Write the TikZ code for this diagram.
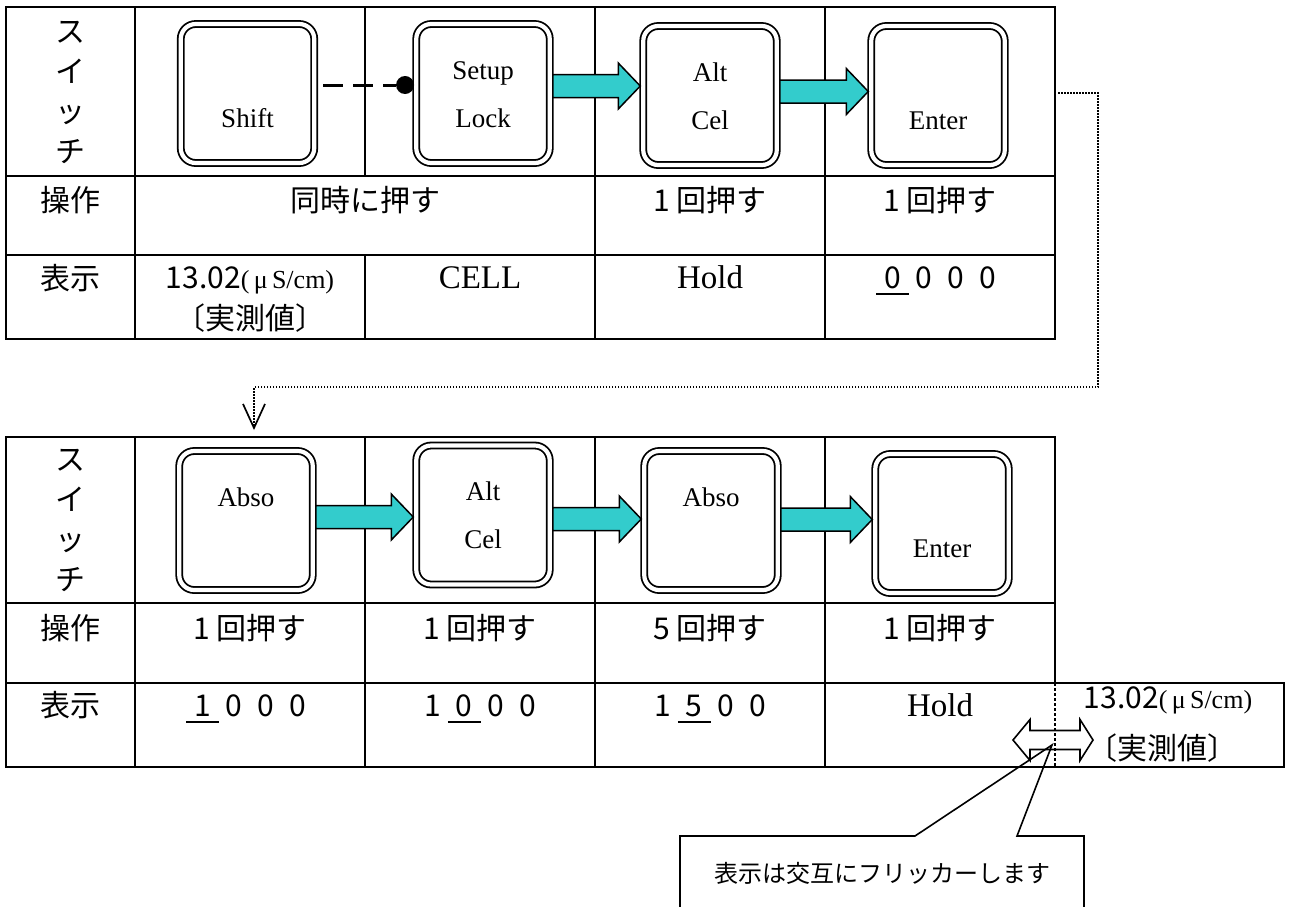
\documentclass[tikz,border=0pt]{standalone}
\usepackage{fontspec}
\setmainfont{Liberation Serif}
\newfontfamily\jp{Noto Sans CJK JP}
\usepackage{tikz}
\usetikzlibrary{arrows.meta,calc}
\definecolor{keycyan}{HTML}{33CCCC}
\newcommand{\dgap}{\hspace{0.5em}}
\newcommand{\cur}[1]{\makebox[0pt][l]{\hspace{-0.27em}\rule[-0.22em]{1.1em}{0.07em}}#1}
\newcommand{\siunit}{{\rmfamily\fontsize{26}{30}\selectfont(\,μ\,S/cm)}}
\newcommand{\flowto}[3]{%
  \draw[flow] ($(#1.east|-0,#3)+(0,-11.5)$) -- ($(#2.west|-0,#3)+(-22,-11.5)$)
    -- ($(#2.west|-0,#3)+(-22,-23)$) -- (#2.west|-0,#3)
    -- ($(#2.west|-0,#3)+(-22,23)$) -- ($(#2.west|-0,#3)+(-22,11.5)$)
    -- ($(#1.east|-0,#3)+(0,11.5)$) -- cycle;}

\begin{document}
\begin{tikzpicture}[
  x=1pt, y=-1pt,
  grid/.style={line width=2.6pt, line cap=rect},
  key/.style={draw, double, line width=1.8pt, double distance=4.2pt,
              rounded corners=15pt, minimum width=133.5pt, minimum height=139pt,
              inner sep=0pt, outer sep=3pt, align=center,
              font=\fontsize{27}{48}\selectfont},
  flow/.style={fill=keycyan, draw=black, line width=1.5pt, line join=miter},
  row/.style={anchor=base, inner sep=0pt, font=\jp\fontsize{30}{36}\selectfont},
  lat/.style={anchor=base, inner sep=0pt, font=\fontsize{33}{40}\selectfont},
  vert/.style={align=center, inner sep=0pt, font=\jp\fontsize{30}{40}\selectfont},
  link/.style={line width=1.5pt, dash pattern=on 1.5pt off 1.5pt,
               -{Straight Barb[length=24pt, width=22pt, line width=1.7pt]}},
  pin/.style={circle, fill, inner sep=0pt, minimum size=18pt},
  note/.style={line width=1.6pt}]
\useasboundingbox (0,0) rectangle (1289,906);
\clip (0,0) rectangle (1289,906);

\draw[grid] (6,7) rectangle (1055,339);
\draw[grid] (6,176) -- (1055,176);
\draw[grid] (6,255) -- (1055,255);
\draw[grid] (135,7) -- (135,339);
\draw[grid] (365,7) -- (365,176);
\draw[grid] (365,255) -- (365,339);
\draw[grid] (595,7) -- (595,339);
\draw[grid] (825,7) -- (825,339);

\node[vert] (sw1) at (70.5,92) {ス\\イ\\ッ\\チ};
\node[key] (shift) at (247.5,93.5) {\strut\\Shift\strut};
\node[key] (setup) at (483,93.5) {Setup\strut\\Lock\strut};
\node[key] (alt) at (710,95.5) {Alt\strut\\Cel\strut};
\node[key] (enter) at (938,95.5) {\strut\\Enter\strut};
\node[pin, anchor=east] (dot) at ($(setup.west|-0,85)+(1,0)$) {};
\draw[line width=3pt, dash pattern=on 20pt off 10pt] ($(shift.east|-0,85)+(6,0)$) -- (dot);
\flowto{setup}{alt}{86}
\flowto{alt}{enter}{91.5}

\node[row] (op1) at (70.5,211) {操作};
\node[row] (both) at (365,211) {同時に押す};
\node[row] (once1) at (710,211) {1 回押す};
\node[row] (once2) at (940,211) {1 回押す};
\node[row] (ds1) at (70.5,289) {表示};
\node[row] (meas1) at (250,288) {13.02\siunit};
\node[row] (real1) at (250,329) {〔実測値〕};
\node[lat] (cell) at (480,288) {CELL};
\node[lat] (hold1) at (710,288) {Hold};
\node[row] (code1) at (940,288) {\cur{0}\dgap0\dgap0\dgap0};

\coordinate (out) at (1058,93);
\coordinate (in) at (254,430);
\draw[link] (out) -- (1098,93) -- (1098,387) -| (in);

\draw[grid] (1055,683) -- (1055,437) -- (6,437) -- (6,767) -- (1284,767) -- (1284,683) -- cycle;
\draw[grid] (6,603) -- (1055,603);
\draw[grid] (6,683) -- (1055,683);
\draw[grid] (135,437) -- (135,767);
\draw[grid] (365,437) -- (365,767);
\draw[grid] (595,437) -- (595,767);
\draw[grid] (825,437) -- (825,767);
\draw[line width=2.2pt, dash pattern=on 3pt off 2pt] (1055,683) -- (1055,767);

\node[vert] (sw2) at (70.5,520) {ス\\イ\\ッ\\チ};
\node[key] (abso) at (246,520.5) {Abso\strut\\\strut};
\node[key] (alt2) at (483,515) {Alt\strut\\Cel\strut};
\node[key] (abso2) at (711,520.5) {Abso\strut\\\strut};
\node[key] (enter2) at (942,523.5) {\strut\\Enter\strut};
\flowto{abso}{alt2}{517}
\flowto{alt2}{abso2}{519}
\flowto{abso2}{enter2}{519.5}

\node[row] (op2) at (70.5,639) {操作};
\node[row] (press1) at (250,639) {1 回押す};
\node[row] (press2) at (480,639) {1 回押す};
\node[row] (press3) at (710,639) {5 回押す};
\node[row] (press4) at (940,639) {1 回押す};
\node[row] (ds2) at (70.5,716) {表示};
\node[row] (code2) at (250,716) {\cur{1}\dgap0\dgap0\dgap0};
\node[row] (code3) at (480,716) {1\dgap\cur{0}\dgap0\dgap0};
\node[row] (code4) at (710,716) {1\dgap\cur{5}\dgap0\dgap0};
\node[lat] (hold2) at (940,716) {Hold};
\node[row] (meas2) at (1168,708) {13.02\siunit};
\node[row] (real2) at (1162,759) {〔実測値〕};

\coordinate (flick) at (1053,740);
\draw[note, shift={(flick)}] (-40,0) -- (-23,-20.5) -- (-23,-9.5) -- (27,-9.5) -- (27,-20.5)
  -- (40,0) -- (27,20.5) -- (27,9.5) -- (-23,9.5) -- (-23,20.5) -- cycle;
\coordinate (tip) at (1052,745);
\draw[note] (680,930) -- (680,836) -- (915,836) -- (tip) -- (1017,836) -- (1084,836) -- (1084,930);
\node[font=\jp\fontsize{24}{28}\selectfont] (memo) at (882,873) {表示は交互にフリッカーします};
\end{tikzpicture}
\end{document}
